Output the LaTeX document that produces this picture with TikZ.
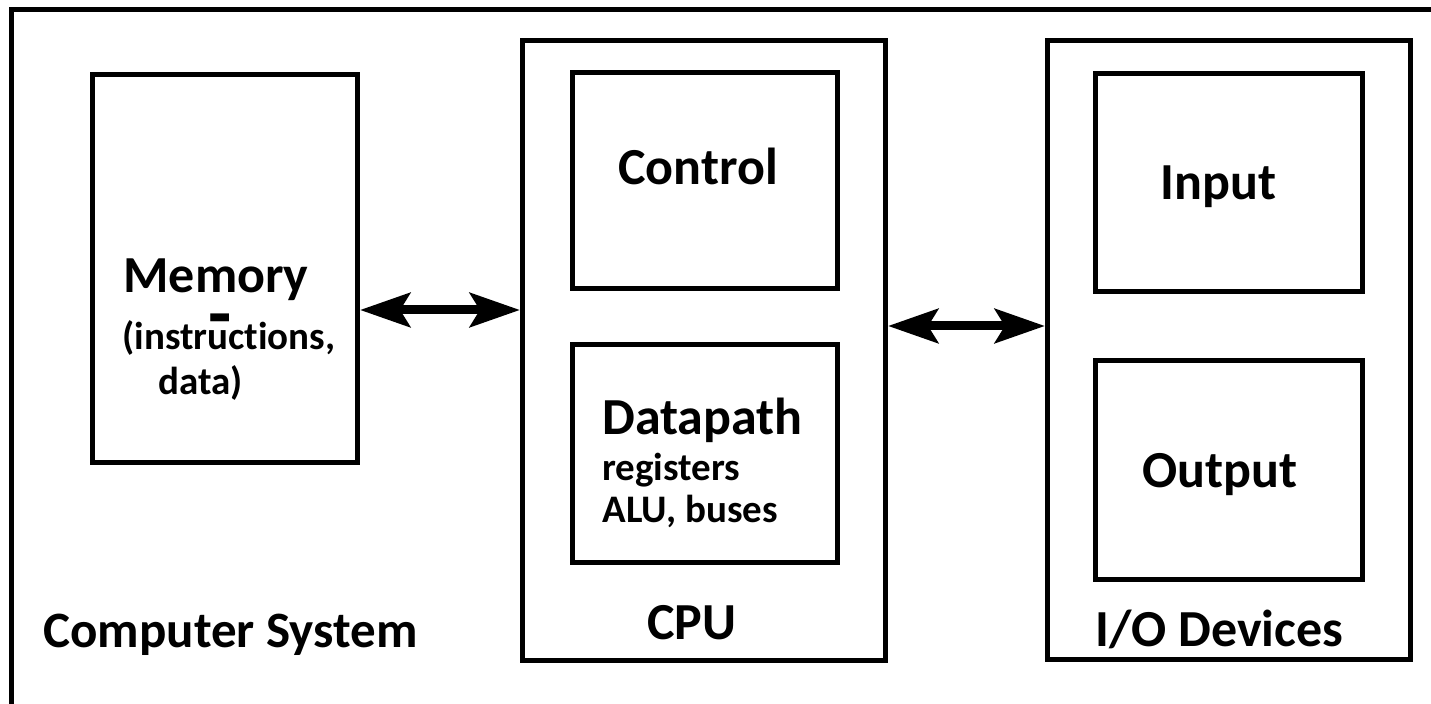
\documentclass[tikz,border=0pt]{standalone}
\usepackage{fontspec}
\setmainfont{Carlito}[Ligatures=CommonOff, Contextuals=NoAlternate]
\usetikzlibrary{arrows.meta}

\begin{document}
\begin{tikzpicture}[x=0.5pt, y=-0.5pt]
    \tikzset{unit/.style={draw, line width=2.5pt, minimum width=132.5pt, minimum height=108pt},
             bigunit/.style={draw, line width=2.5pt, minimum width=181.5pt, minimum height=310pt},
             lbl/.style={inner sep=0pt, anchor=base west, font=\bfseries\fontsize{26}{30}\selectfont},
             sublbl/.style={inner sep=0pt, anchor=base west, font=\bfseries\fontsize{19.5}{23}\selectfont},
             dblarrow/.style={line width=4.5pt, {Stealth[length=25pt, width=17pt, inset=5pt]}-{Stealth[length=25pt, width=17pt, inset=5pt]}}}
    \useasboundingbox (0,0) rectangle (1431,704);

    % Frame of the whole system
    \draw[line width=2.5pt] (11,712) -- (11,9.5) -- (1440,9.5);

    % Nodes
    \node[unit, minimum height=194pt] (mem)   at (225,268.5) {};
    \node[bigunit]                    (cpu)   at (704,350.5) {};
    \node[unit]                       (ctrl)  at (705,180.5) {};
    \node[unit, minimum height=108.75pt] (dpath) at (705,453.75) {};
    \node[bigunit, minimum height=309.5pt] (io) at (1229,350) {};
    \node[unit, minimum width=133.5pt, minimum height=109pt]   (inp)  at (1229,182.5) {};
    \node[unit, minimum width=133.5pt, minimum height=109.5pt] (outp) at (1229,470) {};

    % Labels
    \node[lbl] (memtxt) at (123,293) {Memory};
    \node[inner sep=0pt, anchor=base, font=\bfseries\fontsize{38}{40}\selectfont] (memdash) at (220,340) {-};
    \node[sublbl] (instr) at (122,350) {(instruc\kern0pt tions,};
    \node[sublbl] (data)  at (158,395) {data)};
    \node[lbl] (ctrltxt) at (618,185) {Control};
    \node[lbl] (dpathtxt) at (602,435) {Datapath};
    \node[sublbl] (regs) at (602,481) {registers};
    \node[sublbl] (alu)  at (602,523) {ALU, buses};
    \node[lbl] (cputxt) at (647,640) {CPU};
    \node[lbl] (inptxt) at (1160,200) {Input};
    \node[lbl] (outptxt) at (1142,488) {Output};
    \node[lbl] (iotxt) at (1095,647) {I/O Devices};
    \node[lbl, font=\bfseries\fontsize{25.5}{30}\selectfont] (systxt) at (43,648) {Computer System};

    % Links
    \coordinate (memlink) at (0,310);
    \coordinate (iolink) at (0,326);
    \draw[dblarrow] (mem.east |- memlink) -- (cpu.west |- memlink);
    \draw[dblarrow] (cpu.east |- iolink) -- (io.west |- iolink);
\end{tikzpicture}
\end{document}
